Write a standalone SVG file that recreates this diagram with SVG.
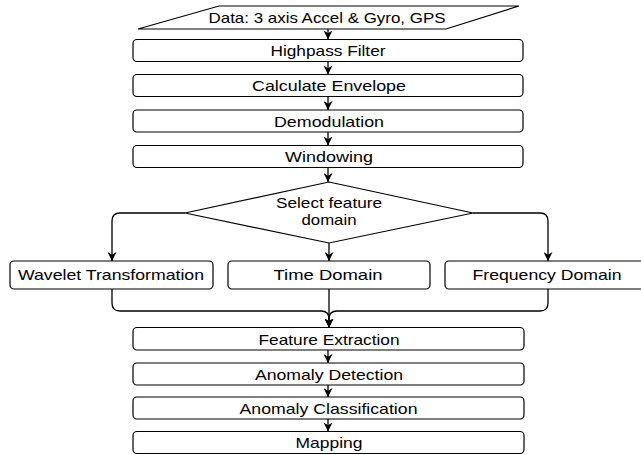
<svg xmlns="http://www.w3.org/2000/svg" width="641" height="455" viewBox="0 0 641 455">
  <defs>
    <marker id="arrow" viewBox="0 0 10 10" refX="10" refY="5" markerWidth="9" markerHeight="9" markerUnits="userSpaceOnUse" orient="auto">
      <path d="M0,0 L10,5 L0,10 L3,5 Z" fill="#000"/>
    </marker>
    <style>
      .box { fill: #fff; stroke: #000; stroke-width: 1.2; }
      .lbl { font-family: "Liberation Sans", Arial, sans-serif; font-size: 15px; fill: #000; text-anchor: middle; }
      .edge { fill: none; stroke: #000; stroke-width: 1.3; marker-end: url(#arrow); }
    </style>
  </defs>
  <rect width="641" height="455" fill="#fff"/>

  <g id="connectors">
    <path class="edge" d="M328,29 V39.5"/>
    <path class="edge" d="M328,61.5 V74.5"/>
    <path class="edge" d="M328,96.5 V110"/>
    <path class="edge" d="M328,132 V145.5"/>
    <path class="edge" d="M328,167.5 V182"/>
    <path class="edge" d="M185,213 H120 Q112,213 112,221 V261"/>
    <path class="edge" d="M329,243 V261"/>
    <path class="edge" d="M473,213 H540 Q548,213 548,221 V261"/>
    <path class="edge" d="M112,289 V303 Q112,311 120,311 H321 Q329,311 329,319 V327.5"/>
    <path class="edge" d="M548,289 V303 Q548,311 540,311 H337 Q329,311 329,319 V327.5"/>
    <path class="edge" d="M329,289 V327.5"/>
    <path class="edge" d="M328,350 V363"/>
    <path class="edge" d="M328,385 V397"/>
    <path class="edge" d="M328,419 V431.5"/>
  </g>

  <g id="data-input">
    <polygon class="box" points="219,6 519,6 446,29 138,29"/>
    <text class="lbl" x="327" y="22.5" textLength="237" lengthAdjust="spacingAndGlyphs">Data: 3 axis Accel &amp; Gyro, GPS</text>
  </g>
  <g id="highpass-filter">
    <rect class="box" x="133" y="39.5" width="390" height="22" rx="4"/>
    <text class="lbl" x="328" y="56" textLength="115" lengthAdjust="spacingAndGlyphs">Highpass Filter</text>
  </g>
  <g id="calculate-envelope">
    <rect class="box" x="133" y="74.5" width="390" height="22" rx="4"/>
    <text class="lbl" x="329" y="91" textLength="154" lengthAdjust="spacingAndGlyphs">Calculate Envelope</text>
  </g>
  <g id="demodulation">
    <rect class="box" x="133" y="110" width="390" height="22" rx="4"/>
    <text class="lbl" x="329" y="126.5" textLength="110" lengthAdjust="spacingAndGlyphs">Demodulation</text>
  </g>
  <g id="windowing">
    <rect class="box" x="133" y="145.5" width="390" height="22" rx="4"/>
    <text class="lbl" x="329" y="162" textLength="88" lengthAdjust="spacingAndGlyphs">Windowing</text>
  </g>
  <g id="select-domain">
    <polygon class="box" points="329,182 473,213 329,243 185,213"/>
    <text class="lbl" x="329" y="207.5" textLength="106" lengthAdjust="spacingAndGlyphs">Select feature</text>
    <text class="lbl" x="329" y="224.5" textLength="55" lengthAdjust="spacingAndGlyphs">domain</text>
  </g>
  <g id="wavelet-transformation">
    <rect class="box" x="10" y="261" width="203" height="28" rx="4"/>
    <text class="lbl" x="111" y="279.5" textLength="186" lengthAdjust="spacingAndGlyphs">Wavelet Transformation</text>
  </g>
  <g id="time-domain">
    <rect class="box" x="228" y="261" width="202" height="28" rx="4"/>
    <text class="lbl" x="328" y="279.5" textLength="109" lengthAdjust="spacingAndGlyphs">Time Domain</text>
  </g>
  <g id="frequency-domain">
    <rect class="box" x="445" y="261" width="203" height="28" rx="4"/>
    <text class="lbl" x="547" y="279.5" textLength="149" lengthAdjust="spacingAndGlyphs">Frequency Domain</text>
  </g>
  <g id="feature-extraction">
    <rect class="box" x="133" y="327.5" width="391" height="22.5" rx="4"/>
    <text class="lbl" x="329" y="344.5" textLength="141" lengthAdjust="spacingAndGlyphs">Feature Extraction</text>
  </g>
  <g id="anomaly-detection">
    <rect class="box" x="133" y="363" width="391" height="22" rx="4"/>
    <text class="lbl" x="329" y="379.5" textLength="148" lengthAdjust="spacingAndGlyphs">Anomaly Detection</text>
  </g>
  <g id="anomaly-classification">
    <rect class="box" x="133" y="397" width="391" height="22" rx="4"/>
    <text class="lbl" x="328.5" y="413.5" textLength="178" lengthAdjust="spacingAndGlyphs">Anomaly Classification</text>
  </g>
  <g id="mapping">
    <rect class="box" x="133" y="431.5" width="391" height="22" rx="4"/>
    <text class="lbl" x="329" y="448" textLength="67" lengthAdjust="spacingAndGlyphs">Mapping</text>
  </g>
</svg>
